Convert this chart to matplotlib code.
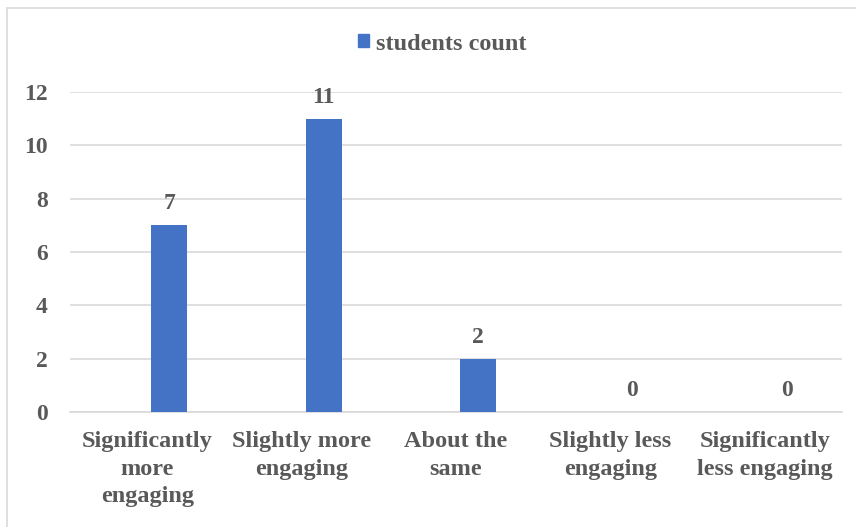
import matplotlib.pyplot as plt
import matplotlib.patches as mpatches
import numpy as np

categories = ['Significantly\nmore\nengaging', 'Slightly more\nengaging', 'About the\nsame',
              'Slightly less\nengaging', 'Significantly\nless engaging']
counts = [7, 11, 2, 0, 0]
series_name = 'students count'
yticks = [0, 2, 4, 6, 8, 10, 12]

plt.rcParams['font.family'] = ['Liberation Serif', 'DejaVu Serif']
plt.rcParams['font.weight'] = 'bold'
txt = '#595959'
blue = '#4472C4'

fig = plt.figure(figsize=(8.56, 5.27), dpi=100)
ax = fig.add_axes([70/856, 1-412/527, 772/856, 320/527])

x = np.arange(len(categories))
# bars sit a bit right of the category centre, like the excel original
bars = ax.bar(x + 0.143, counts, width=0.233, color=blue, label=series_name, zorder=3)
for xi, v in zip(x + 0.143, counts):
    ax.annotate(str(v), (xi, v), xytext=(0, 8), textcoords='offset points',
                ha='center', va='bottom', fontsize=17, fontweight='bold', color=txt)

ax.set_xlim(-0.5, len(categories) - 0.5)
ax.set_ylim(0, 12)
ax.set_yticks(yticks)
ax.yaxis.grid(True, color='#D9D9D9', linewidth=1.2, zorder=0)
ax.set_xticks(x)
ax.set_xticklabels(categories, fontsize=17.5, fontweight='bold', color=txt, linespacing=1.38)
ax.tick_params(axis='y', length=0, pad=16, labelsize=17, labelcolor=txt)
ax.tick_params(axis='x', length=0, pad=14)
for s in ['top', 'right', 'left']:
    ax.spines[s].set_visible(False)
ax.spines['bottom'].set_color('#D9D9D9')
ax.spines['bottom'].set_linewidth(1.2)

leg = fig.legend(handles=[mpatches.Patch(color=blue, label=series_name)],
                 loc='center', bbox_to_anchor=(442/856, 1-44/527), frameon=False,
                 fontsize=17.5, handlelength=0.45, handleheight=0.45, handletextpad=0.3)
for t in leg.get_texts():
    t.set_color(txt)
    t.set_fontweight('bold')

# chart area border
fig.patches.append(mpatches.Rectangle((7/856, -0.05), 1, 1 - 8/527 + 0.05,
                                      transform=fig.transFigure, fill=False,
                                      edgecolor='#D9D9D9', linewidth=1.2))

fig.savefig('out.png', dpi=100)
